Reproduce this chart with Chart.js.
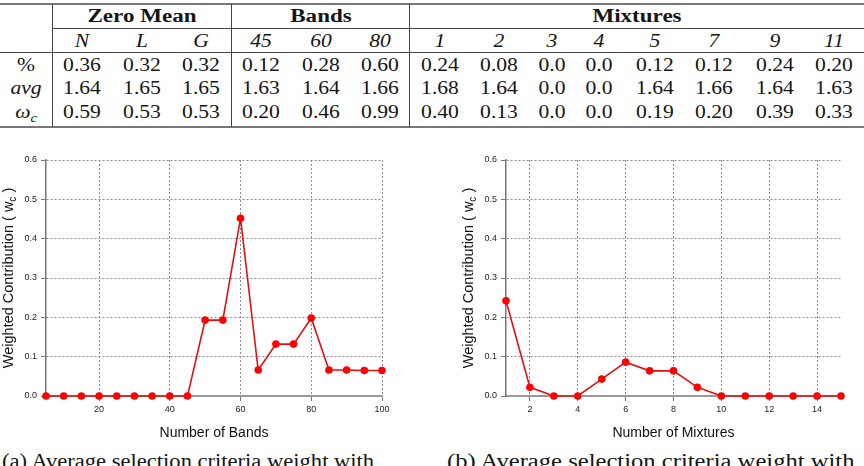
<!DOCTYPE html>
<html><head><meta charset="utf-8">
<script src="https://cdn.jsdelivr.net/npm/chart.js@4.4.0/dist/chart.umd.min.js"></script>
<style>
html,body{margin:0;padding:0;background:#fff;width:864px;height:466px;overflow:hidden;}
#root{position:relative;width:864px;height:466px;overflow:hidden;background:#fff;}
.t{position:absolute;white-space:nowrap;font-family:"Liberation Serif",serif;font-size:18px;color:#151515;line-height:1;transform:translate(-50%,-50%) scaleX(1.2);}
.b{font-weight:bold;transform:translate(-50%,-50%) scaleX(1.28);}
.i{font-style:italic;}
.sub{font-size:12px;position:relative;top:4px;}
.rule{position:absolute;background:#555;}
.cap{position:absolute;white-space:nowrap;font-family:"Liberation Serif",serif;font-size:20px;color:#151515;line-height:1;transform-origin:0 0;}
canvas{position:absolute;}
</style></head>
<body><div id="root">
<canvas id="c1" width="432" height="300" style="left:0;top:150px;"></canvas>
<canvas id="c2" width="432" height="300" style="left:432px;top:150px;"></canvas>
</div>
<script>
// ---- table data ----
const groupHeaders = ['Zero Mean', 'Bands', 'Mixtures'];
const subHeaders = ['N', 'L', 'G', '45', '60', '80', '1', '2', '3', '4', '5', '7', '9', '11'];
const rowLabels = ['%', 'avg', 'ω'];
const pctRow = ['0.36','0.32','0.32','0.12','0.28','0.60','0.24','0.08','0.0','0.0','0.12','0.12','0.24','0.20'];
const avgRow = ['1.64','1.65','1.65','1.63','1.64','1.66','1.68','1.64','0.0','0.0','1.64','1.66','1.64','1.63'];
const wcRow  = ['0.59','0.53','0.53','0.20','0.46','0.99','0.40','0.13','0.0','0.0','0.19','0.20','0.39','0.33'];

// ---- chart data ----
const bandsX = [5,10,15,20,25,30,35,40,45,50,55,60,65,70,75,80,85,90,95,100];
const bandsW = [0,0,0,0,0,0,0,0,0,0.193,0.193,0.452,0.066,0.132,0.132,0.198,0.066,0.066,0.065,0.065];
const mixX = [1,2,3,4,5,6,7,8,9,10,11,12,13,14,15];
const mixW = [0.242,0.022,0,0,0.043,0.086,0.064,0.064,0.022,0,0,0,0,0,0];
const bandsTicks = [20,40,60,80,100];
const mixTicks = [2,4,6,8,10,12,14];
const yTicks = [0,0.1,0.2,0.3,0.4,0.5,0.6];
const yTitle = ['Weighted Contribution ( w', 'c', ' )'];
const captions = ['(a)  Average selection criteria weight with', '(b)  Average selection criteria weight with'];

// ---- table layout ----
const root = document.getElementById('root');
const colX = [82,141.5,201, 261,320.5,380, 440,499,552,599,655,714,775,834];
const groupX = [141.5, 320.5, 637];
const labelX = 26;
const headY = 16, subY = 41, rowY = [65, 88, 112];

function txt(html, x, y, cls) {
  const d = document.createElement('div');
  d.className = 't ' + (cls || '');
  d.innerHTML = html;
  d.style.left = x + 'px'; d.style.top = y + 'px';
  root.appendChild(d);
}
function rule(x, y, w, h, col) {
  const d = document.createElement('div');
  d.className = 'rule';
  d.style.left = x + 'px'; d.style.top = y + 'px';
  d.style.width = w + 'px'; d.style.height = h + 'px';
  if (col) d.style.background = col;
  root.appendChild(d);
}
rule(0, 3, 864, 2, '#777');
rule(52, 28, 812, 1, '#444');
rule(0, 52, 864, 1, '#444');
rule(0, 126, 864, 2, '#777');
[52, 231, 409].forEach(x => rule(x, 4, 1, 123, '#444'));
groupHeaders.forEach((g, i) => txt(g, groupX[i], headY, 'b'));
subHeaders.forEach((s, i) => txt(s, colX[i], subY, 'i'));
txt(rowLabels[0], labelX, rowY[0], '');
txt(rowLabels[1], labelX, rowY[1], 'i');
txt(rowLabels[2] + '<span class="sub">c</span>', labelX, rowY[2], 'i');
[pctRow, avgRow, wcRow].forEach((row, r) => row.forEach((v, i) => txt(v, colX[i], rowY[r], '')));

// captions
const capPos = [[2, 379], [447, 415]];
const mctx = document.createElement('canvas').getContext('2d');
mctx.font = '20px "Liberation Serif"';
captions.forEach((c, i) => {
  const d = document.createElement('div');
  d.className = 'cap';
  d.textContent = c;
  d.style.left = capPos[i][0] + 'px';
  d.style.top = '451px';
  const w = mctx.measureText(c).width;
  d.style.transform = 'scaleX(' + (capPos[i][1] / w) + ')';
  root.appendChild(d);
});

// ---- charts ----
const titlePlugin = {
  id: 'axisTitles',
  afterDraw(chart, args, opts) {
    const {ctx, chartArea} = chart;
    ctx.save();
    ctx.fillStyle = '#111';
    ctx.font = '14px "Liberation Sans"';
    ctx.textAlign = 'center';
    ctx.textBaseline = 'middle';
    ctx.fillText(opts.xTitle, (chartArea.left + chartArea.right) / 2, chartArea.bottom + 37);
    const mainF = '14.5px "Liberation Sans"', subF = '10px "Liberation Sans"';
    ctx.font = mainF; const w0 = ctx.measureText(yTitle[0]).width; const w2 = ctx.measureText(yTitle[2]).width;
    ctx.font = subF; const w1 = ctx.measureText(yTitle[1]).width;
    const total = w0 + w1 + w2;
    ctx.translate(chartArea.left - 37, (chartArea.top + chartArea.bottom) / 2);
    ctx.rotate(-Math.PI / 2);
    ctx.textAlign = 'left';
    let p = -total / 2;
    ctx.font = mainF; ctx.fillText(yTitle[0], p, 0); p += w0;
    ctx.font = subF; ctx.fillText(yTitle[1], p, 4); p += w1;
    ctx.font = mainF; ctx.fillText(yTitle[2], p, 0);
    ctx.restore();
  }
};

function makeChart(id, xs, ys, xMin, xMax, xTickVals, xTitle, leftW, rightPad) {
  new Chart(document.getElementById(id), {
    type: 'line',
    data: { datasets: [{
      data: xs.map((x, i) => ({x: x, y: ys[i]})),
      borderColor: '#e21010',
      borderWidth: 1.6,
      pointBackgroundColor: '#ff0000',
      pointBorderColor: '#ff0000',
      pointBorderWidth: 0,
      pointRadius: 3.8,
      tension: 0,
      clip: false
    }]},
    options: {
      responsive: false, animation: false, devicePixelRatio: 1,
      layout: { padding: { left: 0, top: 10, right: rightPad, bottom: 0 } },
      plugins: { legend: {display: false}, tooltip: {enabled: false}, axisTitles: { xTitle: xTitle } },
      scales: {
        x: {
          type: 'linear', min: xMin, max: xMax,
          afterBuildTicks: s => { s.ticks = xTickVals.map(v => ({value: v})); },
          afterFit: s => { s.height = 54; },
          grid: { color: '#8a8a8a', lineWidth: 1, tickColor: '#777', tickLength: 5, tickWidth: 1 },
          border: { display: true, color: '#999', width: 2, dash: [2, 2] },
          ticks: { color: '#222', font: { family: 'Liberation Sans', size: 9 }, padding: 3, maxRotation: 0, autoSkip: false }
        },
        y: {
          min: 0, max: 0.6,
          afterBuildTicks: s => { s.ticks = yTicks.map(v => ({value: v})); },
          afterFit: s => { s.width = leftW; },
          grid: { color: '#8a8a8a', lineWidth: 1, tickColor: '#777', tickLength: 5, tickWidth: 1 },
          border: { display: true, color: '#777', width: 1.5, dash: [2, 2] },
          ticks: { color: '#222', font: { family: 'Liberation Sans', size: 9 }, padding: 4,
                   callback: v => Number(v).toFixed(1) }
        }
      }
    },
    plugins: [titlePlugin]
  });
}
makeChart('c1', bandsX, bandsW, 5, 100, bandsTicks, 'Number of Bands', 46, 50);
makeChart('c2', mixX, mixW, 1, 15, mixTicks, 'Number of Mixtures', 74, 23);
</script>
</body></html>
